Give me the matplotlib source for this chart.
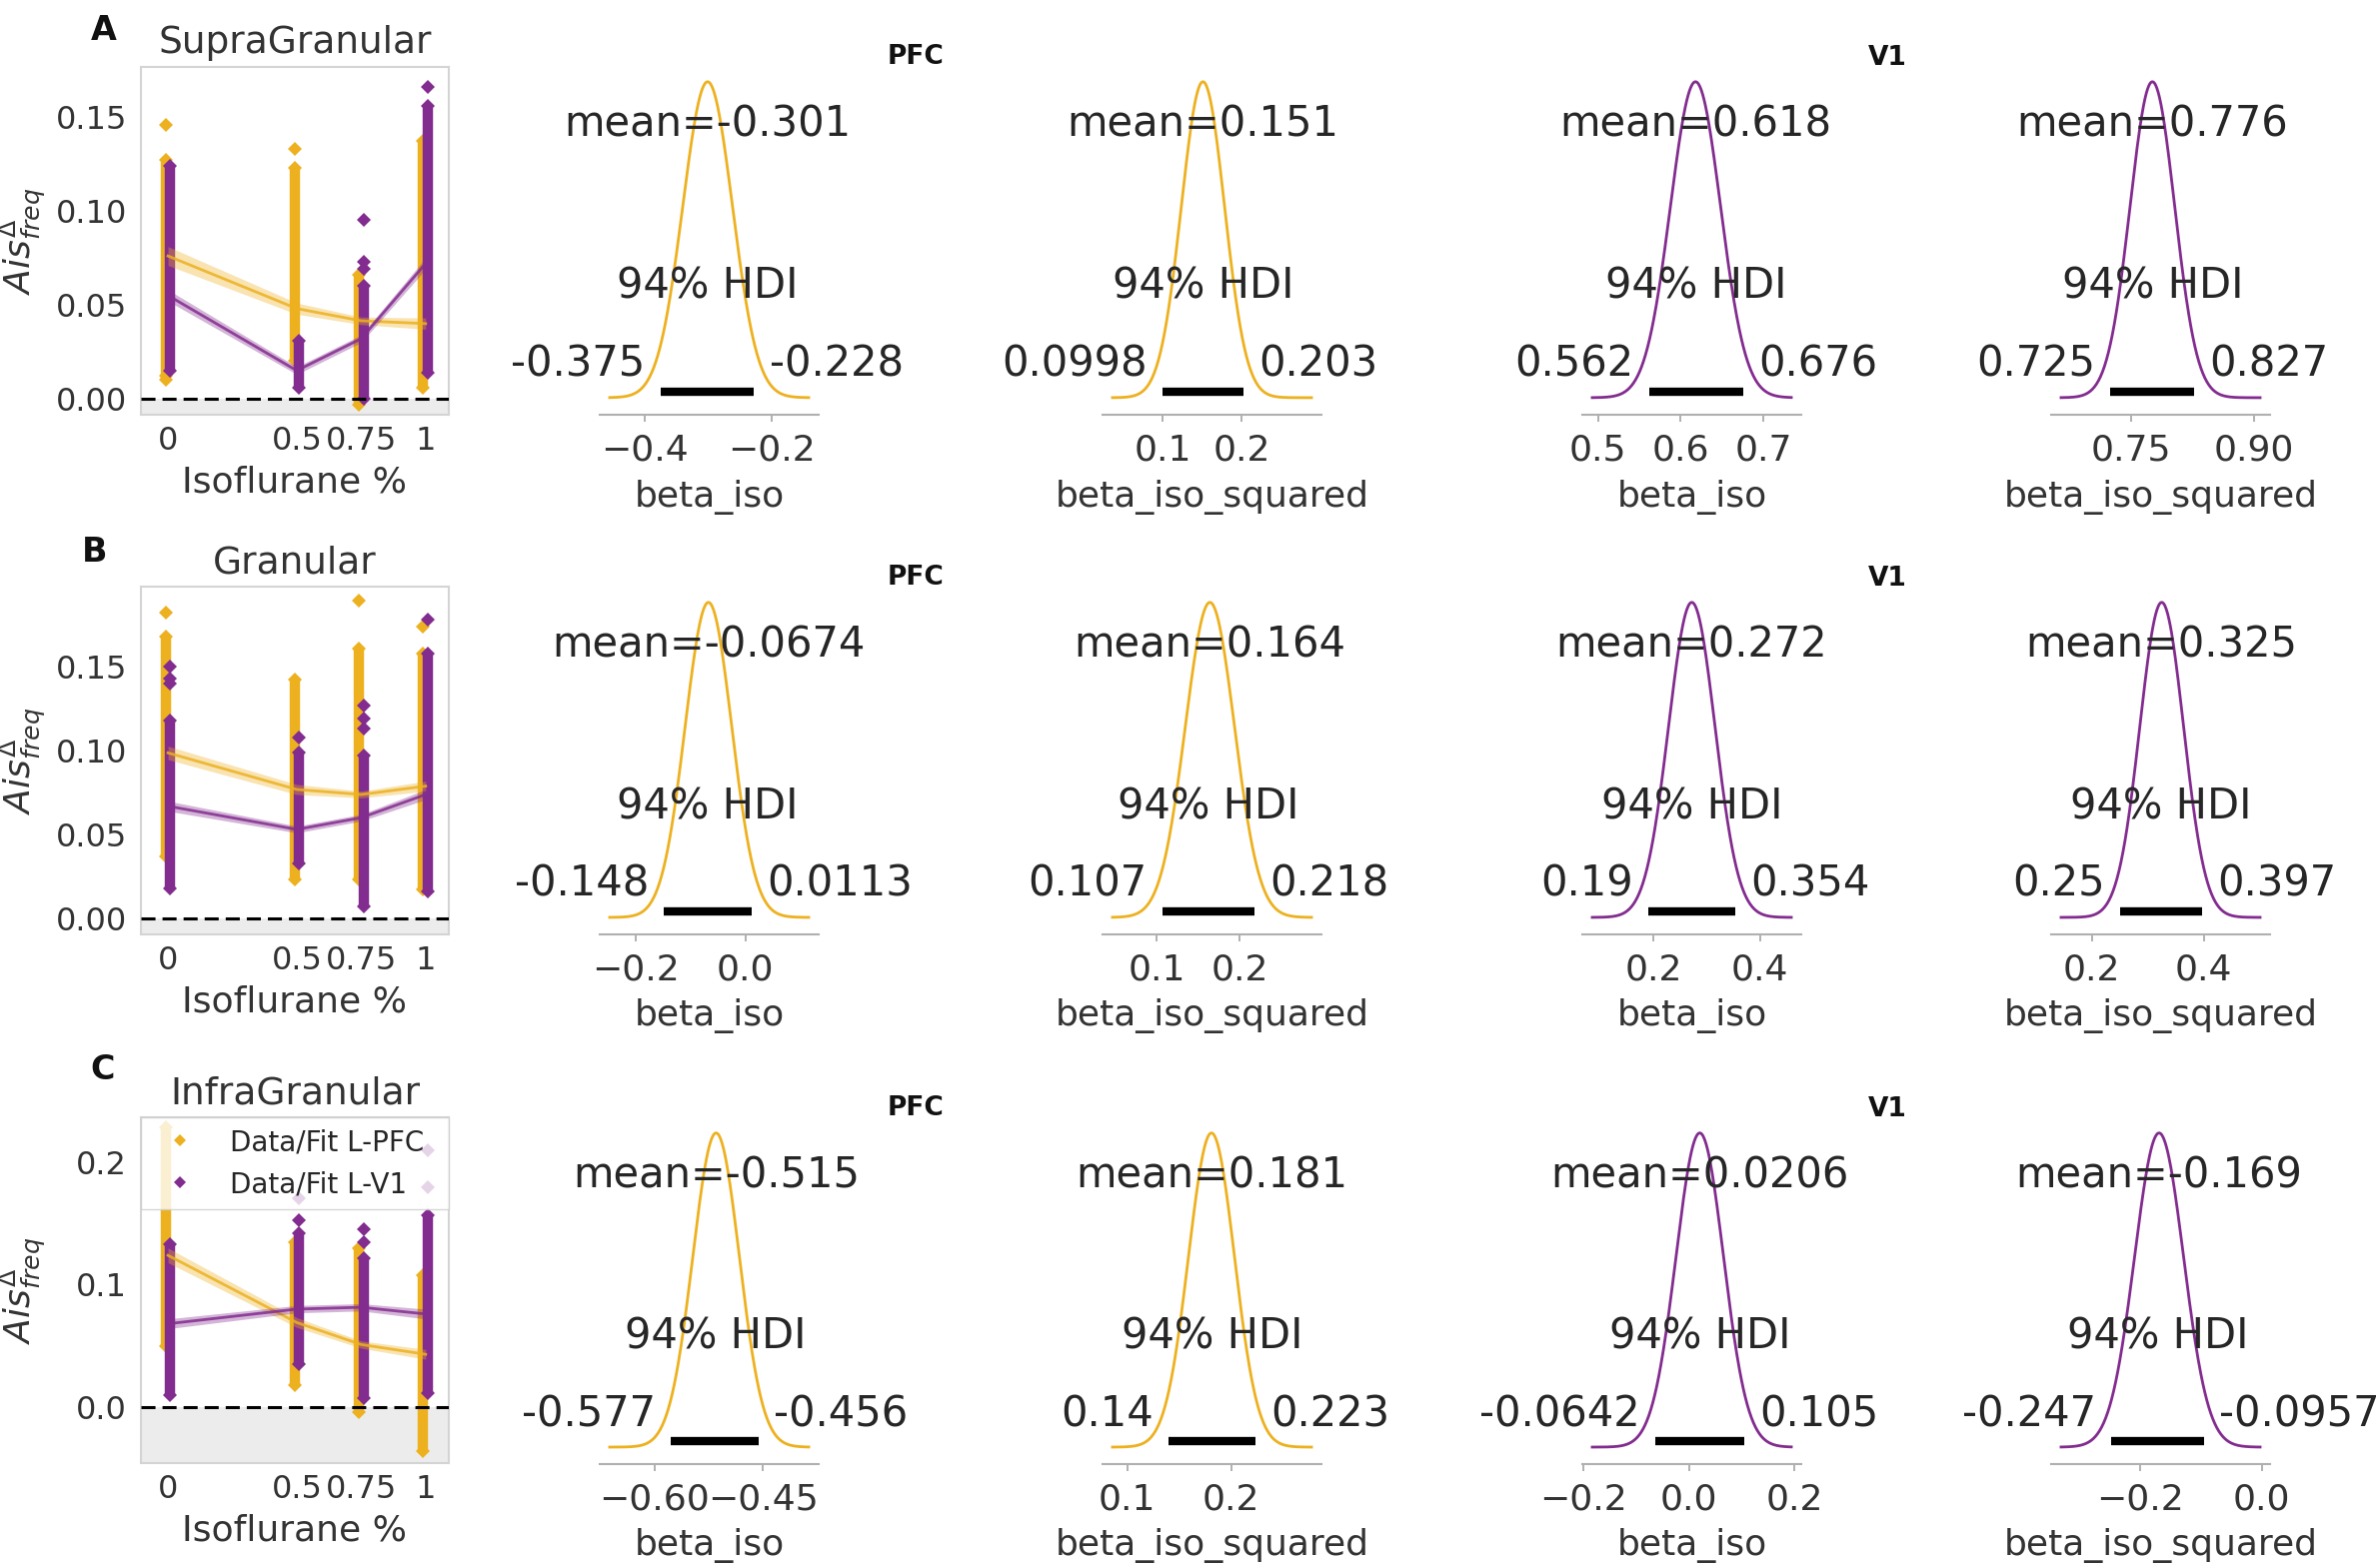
import numpy as np
import matplotlib.pyplot as plt
from matplotlib.lines import Line2D

W, H = 2379, 1569
PFC_COL = '#EDB120'
V1_COL = '#832C8F'
TXT = '#262626'

# ---- left panels: data / fit per isoflurane level ----
iso_levels = [0, 0.5, 0.75, 1]
iso_labels = ['0', '0.5', '0.75', '1']
layer_names = ['SupraGranular', 'Granular', 'InfraGranular']
panel_letters = ['A', 'B', 'C']

supra_fit_pfc = [0.076, 0.048, 0.0415, 0.040]
supra_fit_v1 = [0.055, 0.015, 0.032, 0.072]
supra_band_pfc = [0.005, 0.003, 0.002, 0.003]
supra_band_v1 = [0.003, 0.002, 0.002, 0.003]
supra_pfc_lo = [0.010, 0.020, -0.003, 0.006]
supra_pfc_hi = [0.127, 0.123, 0.066, 0.137]
supra_pfc_out = [[0.146, 0.012], [0.133], [], []]
supra_v1_lo = [0.015, 0.006, 0.000, 0.014]
supra_v1_hi = [0.124, 0.031, 0.060, 0.156]
supra_v1_out = [[], [], [0.069, 0.073, 0.095], [0.166]]

gran_fit_pfc = [0.0986, 0.0768, 0.0738, 0.0788]
gran_fit_v1 = [0.0669, 0.053, 0.060, 0.0738]
gran_band_pfc = [0.004, 0.003, 0.002, 0.003]
gran_band_v1 = [0.003, 0.002, 0.002, 0.003]
gran_pfc_lo = [0.037, 0.023, 0.023, 0.017]
gran_pfc_hi = [0.168, 0.142, 0.161, 0.158]
gran_pfc_out = [[0.182], [], [0.189], [0.174]]
gran_v1_lo = [0.018, 0.033, 0.007, 0.016]
gran_v1_hi = [0.118, 0.099, 0.097, 0.158]
gran_v1_out = [[0.140, 0.143, 0.150], [0.108], [0.113, 0.119, 0.127], [0.178]]

infra_fit_pfc = [0.124, 0.069, 0.051, 0.043]
infra_fit_v1 = [0.068, 0.080, 0.0815, 0.076]
infra_band_pfc = [0.006, 0.004, 0.003, 0.004]
infra_band_v1 = [0.004, 0.003, 0.003, 0.004]
infra_pfc_lo = [0.050, 0.018, -0.004, -0.036]
infra_pfc_hi = [0.229, 0.135, 0.130, 0.108]
infra_pfc_out = [[], [], [], []]
infra_v1_lo = [0.0097, 0.035, 0.007, 0.011]
infra_v1_hi = [0.133, 0.142, 0.122, 0.157]
infra_v1_out = [[], [0.153, 0.171], [0.135, 0.145], [0.180, 0.210]]

left_ylims = [(-0.0085, 0.1766), (-0.0095, 0.1976), (-0.046, 0.237)]
left_yticks = [[0, 0.05, 0.10, 0.15], [0, 0.05, 0.10, 0.15], [0, 0.1, 0.2]]

# ---- posterior panels ----
post_params = ['beta_iso', 'beta_iso_squared', 'beta_iso', 'beta_iso_squared']
post_regions = ['PFC', 'PFC', 'V1', 'V1']

supra_post_mean = [-0.301, 0.151, 0.618, 0.776]
supra_post_hdi_lo = [-0.375, 0.0998, 0.562, 0.725]
supra_post_hdi_hi = [-0.228, 0.203, 0.676, 0.827]
supra_post_min = [-0.455, 0.036, 0.493, 0.665]
supra_post_max = [-0.142, 0.289, 0.734, 0.907]
supra_post_ticks = [[-0.4, -0.2], [0.1, 0.2], [0.5, 0.6, 0.7], [0.75, 0.90]]
supra_post_dec = [1, 1, 1, 2]

gran_post_mean = [-0.0674, 0.164, 0.272, 0.325]
gran_post_hdi_lo = [-0.148, 0.107, 0.19, 0.25]
gran_post_hdi_hi = [0.0113, 0.218, 0.354, 0.397]
gran_post_min = [-0.247, 0.047, 0.085, 0.145]
gran_post_max = [0.115, 0.286, 0.459, 0.501]
gran_post_ticks = [[-0.2, 0.0], [0.1, 0.2], [0.2, 0.4], [0.2, 0.4]]
gran_post_dec = [1, 1, 1, 1]

infra_post_mean = [-0.515, 0.181, 0.0206, -0.169]
infra_post_hdi_lo = [-0.577, 0.14, -0.0642, -0.247]
infra_post_hdi_hi = [-0.456, 0.223, 0.105, -0.0957]
infra_post_min = [-0.662, 0.086, -0.183, -0.330]
infra_post_max = [-0.387, 0.277, 0.194, -0.003]
infra_post_ticks = [[-0.60, -0.45], [0.1, 0.2], [-0.2, 0.0, 0.2], [-0.2, 0.0]]
infra_post_dec = [2, 1, 1, 1]

left_rows = [
    (supra_fit_pfc, supra_fit_v1, supra_band_pfc, supra_band_v1,
     (supra_pfc_lo, supra_pfc_hi, supra_pfc_out), (supra_v1_lo, supra_v1_hi, supra_v1_out)),
    (gran_fit_pfc, gran_fit_v1, gran_band_pfc, gran_band_v1,
     (gran_pfc_lo, gran_pfc_hi, gran_pfc_out), (gran_v1_lo, gran_v1_hi, gran_v1_out)),
    (infra_fit_pfc, infra_fit_v1, infra_band_pfc, infra_band_v1,
     (infra_pfc_lo, infra_pfc_hi, infra_pfc_out), (infra_v1_lo, infra_v1_hi, infra_v1_out)),
]
post_rows = [
    (supra_post_mean, supra_post_hdi_lo, supra_post_hdi_hi, supra_post_min, supra_post_max,
     supra_post_ticks, supra_post_dec),
    (gran_post_mean, gran_post_hdi_lo, gran_post_hdi_hi, gran_post_min, gran_post_max,
     gran_post_ticks, gran_post_dec),
    (infra_post_mean, infra_post_hdi_lo, infra_post_hdi_hi, infra_post_min, infra_post_max,
     infra_post_ticks, infra_post_dec),
]

# layout in pixels
left_boxes = [(141, 67, 449, 415), (141, 587, 449, 935), (141, 1118, 449, 1464)]
row_y = [(66, 415), (587, 935), (1118, 1465)]
post_cols = [(600, 819), (1103, 1322), (1583, 1802), (2052, 2271)]
letter_pos = [(104, 30), (95, 553), (103, 1070)]

fig = plt.figure(figsize=(W / 100, H / 100), dpi=100)


def px_axes(x0, y0, x1, y1):
    return fig.add_axes([x0 / W, 1 - y1 / H, (x1 - x0) / W, (y1 - y0) / H])


def density(mean, lo, hi, xmin, xmax):
    # normal shape matching the reported mean and 94% HDI
    sd = (hi - lo) / (2 * 1.881)
    xs = np.linspace(xmin, xmax, 300)
    return xs, np.exp(-0.5 * ((xs - mean) / sd) ** 2)


def minus(s):
    return s.replace('-', '\u2212')


MS = 7.5
for i in range(3):
    fit_p, fit_v, band_p, band_v, pts_p, pts_v = left_rows[i]
    ax = px_axes(*left_boxes[i])
    ylo, yhi = left_ylims[i]
    ax.axhspan(ylo, 0, color='#ececec', zorder=0, lw=0)

    for (lo, hi, out), col, dx in [(pts_p, PFC_COL, -0.009), (pts_v, V1_COL, 0.009)]:
        xs = [x + dx for x in iso_levels]
        ax.vlines(xs, lo, hi, color=col, lw=7.5, zorder=2)
        ax.plot(xs, lo, 'D', color=col, ms=MS, mew=0, zorder=2)
        ax.plot(xs, hi, 'D', color=col, ms=MS, mew=0, zorder=2)
        for x, o in zip(xs, out):
            ax.plot([x] * len(o), o, 'D', color=col, ms=MS, mew=0, zorder=2)

    for fit, band, col in [(fit_p, band_p, PFC_COL), (fit_v, band_v, V1_COL)]:
        f = np.array(fit)
        b = np.array(band)
        ax.fill_between(iso_levels, f - b, f + b, color=col, alpha=0.35, lw=0, zorder=3)
        ax.plot(iso_levels, fit, color=col, lw=2, alpha=0.85, zorder=3)

    ax.axhline(0, color='k', ls=(0, (4.6, 2.3)), lw=2.2, zorder=4)
    ax.set_xlim(-0.105, 1.09)
    ax.set_ylim(ylo, yhi)
    ax.set_xticks(iso_levels)
    ax.set_xticklabels(iso_labels)
    ax.set_yticks(left_yticks[i])
    ax.tick_params(length=0, labelsize=23, colors='#333333')
    ax.tick_params(axis='x', pad=8)
    ax.tick_params(axis='y', pad=10)
    for sp in ax.spines.values():
        sp.set_color('#d4d4d4')
        sp.set_linewidth(1.5)
    ax.set_title(layer_names[i], fontsize=27, color='#333333', pad=10)
    ax.set_xlabel('Isoflurane %', fontsize=26, color='#333333')
    ax.xaxis.set_label_coords(0.5, -0.195)
    ax.xaxis.label.set_va('center')
    ax.set_ylabel(r'$Ais^{\Delta}_{freq}$', fontsize=26, color='#333333')
    ax.yaxis.set_label_coords(-0.385, 0.5)
    ax.yaxis.label.set_va('center')
    lx, ly = letter_pos[i]
    fig.text(lx / W, 1 - ly / H, panel_letters[i], fontsize=24, fontweight='bold',
             ha='center', va='center', color='#111111')

    if i == 2:
        handles = [Line2D([], [], marker='D', ls='none', color=PFC_COL, ms=6, mew=0),
                   Line2D([], [], marker='D', ls='none', color=V1_COL, ms=6, mew=0)]
        leg = ax.legend(handles, ['Data/Fit L-PFC', 'Data/Fit L-V1'], loc='upper left',
                        bbox_to_anchor=(0, 0, 1, 1), mode='expand', borderaxespad=0,
                        fontsize=20, fancybox=False, edgecolor='#cccccc')
        for t in leg.get_texts():
            t.set_color(TXT)

for r in range(3):
    means, hlo, hhi, pmin, pmax, ticks, decs = post_rows[r]
    y0, y1 = row_y[r]
    for c in range(4):
        x0, x1 = post_cols[c]
        ax = px_axes(x0, y0, x1, y1)
        col = PFC_COL if post_regions[c] == 'PFC' else V1_COL
        xs, ys = density(means[c], hlo[c], hhi[c], pmin[c], pmax[c])
        ax.plot(xs, ys, color=col, lw=2, zorder=3)
        ax.plot([hlo[c], hhi[c]], [0.02, 0.02], color='k', lw=6, solid_capstyle='butt')
        ax.text(means[c], 0.865, f'mean={means[c]:.3g}', ha='center', va='center',
                fontsize=30, color=TXT)
        ax.text((hlo[c] + hhi[c]) / 2, 0.351, '94% HDI', ha='center', va='center',
                fontsize=30, color=TXT)
        ax.annotate(f'{hlo[c]:.3g}', (hlo[c], 0.105), xytext=(-11, 0),
                    textcoords='offset points', ha='right', va='center', fontsize=30, color=TXT)
        ax.annotate(f'{hhi[c]:.3g}', (hhi[c], 0.105), xytext=(11, 0),
                    textcoords='offset points', ha='left', va='center', fontsize=30, color=TXT)
        ax.set_ylim(-0.054, 1.05)
        ax.set_yticks([])
        ax.set_xticks(ticks[c])
        ax.set_xticklabels([minus(f'{t:.{decs[c]}f}') for t in ticks[c]])
        ax.tick_params(axis='x', length=5, width=1.3, color='#aaaaaa', labelsize=26,
                       labelcolor='#333333', pad=8)
        for side in ['left', 'right', 'top']:
            ax.spines[side].set_visible(False)
        ax.spines['bottom'].set_color('#b0b0b0')
        ax.spines['bottom'].set_linewidth(1.5)
        ax.set_xlabel(post_params[c], fontsize=26, color='#333333')
        ax.xaxis.set_label_coords(0.5, -0.235)
        ax.xaxis.label.set_va('center')
        ax.patch.set_alpha(0)

    fig.text(916 / W, 1 - (y0 - 9) / H, 'PFC', fontsize=19, fontweight='bold',
             ha='center', va='center', color='#111111')
    fig.text(1888 / W, 1 - (y0 - 8) / H, 'V1', fontsize=19, fontweight='bold',
             ha='center', va='center', color='#111111')

fig.savefig('out.png', dpi=100, facecolor='white')
